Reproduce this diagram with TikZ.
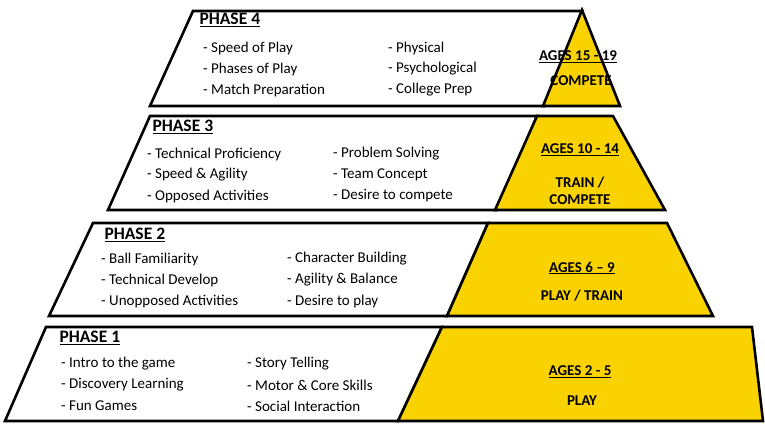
\documentclass[tikz,border=0pt]{standalone}
\usepackage{fontspec}
\setmainfont{Carlito}
\begin{document}
\begin{tikzpicture}[x=1pt,y=-1pt,
  wbox/.style={draw=black,line width=2.6pt,fill=white,line join=miter},
  ybox/.style={draw=black,line width=2.6pt,fill={rgb,255:red,250;green,210;blue,0},line join=miter},
  ttl/.style={anchor=west,font=\bfseries\fontsize{17.5}{17}\selectfont},
  itm/.style={anchor=west,font=\fontsize{15}{15}\selectfont,inner sep=0pt},
  ylab/.style={font=\bfseries\fontsize{15}{15}\selectfont,inner sep=0pt,align=center}]
\useasboundingbox (0,0) rectangle (765,426);
% phase 4
\draw[wbox] (193,11) -- (582,11) -- (545,106) -- (150,106) -- cycle;
\draw[ybox] (582,10) -- (620,106) -- (543,106) -- cycle;
% phase 3
\draw[wbox] (150,116) -- (537,116) -- (497,210) -- (108,210) -- cycle;
\draw[ybox] (537,116) -- (613,116) -- (665,210) -- (495,210) -- cycle;
% phase 2
\draw[wbox] (93,223) -- (488,223) -- (447,316) -- (49,316) -- cycle;
\draw[ybox] (488,223) -- (667,223) -- (713,316) -- (447,316) -- cycle;
% phase 1
\draw[wbox] (46,327) -- (442,327) -- (398,421) -- (5,421) -- cycle;
\draw[ybox] (442,327) -- (752,327) -- (763,421) -- (398,421) -- cycle;

\node[ttl] (t4) at (196,20) {\underline{PHASE 4}};
\node[itm] (a41) at (203,48) {- Speed of Play};
\node[itm] (a42) at (203,69) {- Phases of Play};
\node[itm] (a43) at (203,90) {- Match Preparation};
\node[itm] (b41) at (388,48) {- Physical};
\node[itm] (b42) at (388,69) {- Psychological};
\node[itm] (b43) at (388,90) {- College Prep};
\node[ylab] (y41) at (578,57) {\underline{AGES 15 - 19}};
\node[ylab] (y42) at (581,81) {COMPETE};

\node[ttl] (t3) at (149,127) {\underline{PHASE 3}};
\node[itm] (a31) at (147,154) {- Technical Proficiency};
\node[itm] (a32) at (147,175) {- Speed \& Agility};
\node[itm] (a33) at (147,196) {- Opposed Activities};
\node[itm] (b31) at (333,154) {- Problem Solving};
\node[itm] (b32) at (333,175) {- Team Concept};
\node[itm] (b33) at (333,196) {- Desire to compete};
\node[ylab] (y31) at (580,150) {\underline{AGES 10 - 14}};
\node[ylab] (y32) at (580,191) {TRAIN /\\[2pt]COMPETE};

\node[ttl] (t2) at (101,235) {\underline{PHASE 2}};
\node[itm] (a21) at (101,259) {- Ball Familiarity};
\node[itm] (a22) at (101,280) {- Technical Develop};
\node[itm] (a23) at (101,301) {- Unopposed Activities};
\node[itm] (b21) at (287,259) {- Character Building};
\node[itm] (b22) at (287,280) {- Agility \& Balance};
\node[itm] (b23) at (287,301) {- Desire to play};
\node[ylab] (y21) at (582,268) {\underline{AGES 6 – 9}};
\node[ylab] (y22) at (582,296) {PLAY / TRAIN};

\node[ttl] (t1) at (56,338) {\underline{PHASE 1}};
\node[itm] (a11) at (61,364) {- Intro to the game};
\node[itm] (a12) at (61,385) {- Discovery Learning};
\node[itm] (a13) at (61,406) {- Fun Games};
\node[itm] (b11) at (247,364) {- Story Telling};
\node[itm] (b12) at (247,385) {- Motor \& Core Skills};
\node[itm] (b13) at (247,406) {- Social Interaction};
\node[ylab] (y11) at (580,372) {\underline{AGES 2 - 5}};
\node[ylab] (y12) at (582,401) {PLAY};
\end{tikzpicture}
\end{document}
